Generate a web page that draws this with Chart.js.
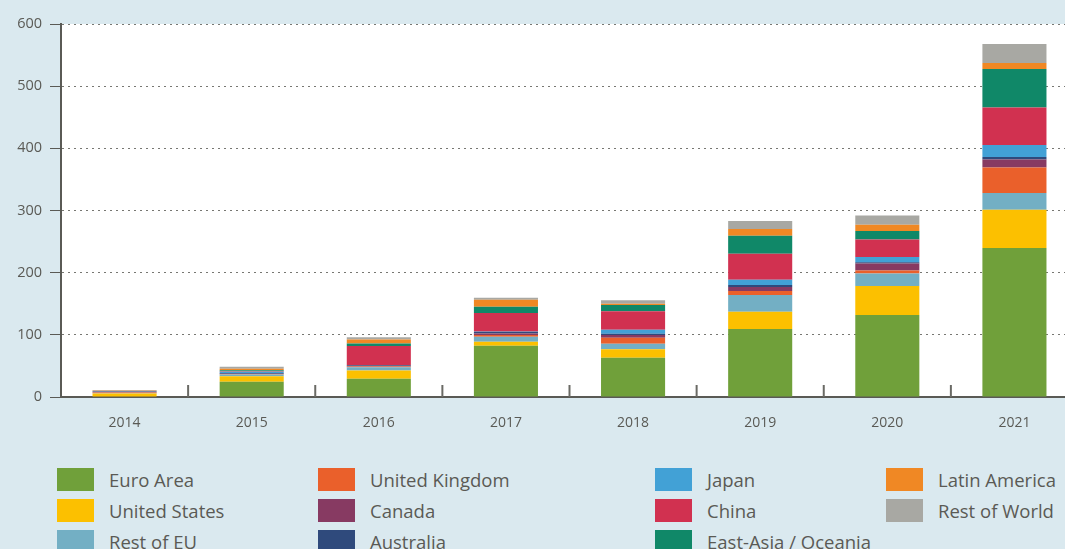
<!DOCTYPE html>
<html>
<head>
<meta charset="utf-8">
<script src="https://cdn.jsdelivr.net/npm/chart.js@4/dist/chart.umd.min.js"></script>
<style>
    html, body { margin: 0; padding: 0; }
    body {
        width: 1065px; height: 549px; overflow: hidden; position: relative;
        background: #dae9ef; font-family: 'Open Sans', sans-serif;
    }
    #chartBox { position: absolute; left: 0; top: 0; width: 1078px; height: 440px; }
    #legend {
        position: absolute; left: 57px; top: 464px;
        display: grid; grid-auto-flow: column;
        grid-template-columns: 261px 337px 231px 200px;
        grid-template-rows: repeat(3, 31px);
    }
    .item { display: flex; align-items: center; font-size: 18.5px; color: #5a5a55; white-space: nowrap; }
    .swatch { width: 37px; height: 23px; margin-right: 15px; flex: none; }
</style>
</head>
<body>
<div id="chartBox"><canvas id="regionChart" width="1078" height="440"></canvas></div>
<div id="legend"></div>
<script>
var years = ['2014', '2015', '2016', '2017', '2018', '2019', '2020', '2021'];
var yTicks = [0, 100, 200, 300, 400, 500, 600];

var regions = ['Euro Area', 'United States', 'Rest of EU', 'United Kingdom', 'Canada', 'Australia',
    'Japan', 'China', 'East-Asia / Oceania', 'Latin America', 'Rest of World'];
var colors = ['#70a03a', '#fcc000', '#73afc4', '#ea602b', '#873a62', '#2f4a7c',
    '#42a1d6', '#d13150', '#108868', '#f08824', '#a8a8a3'];

// values per region, 2014..2021
var euroArea     = [1.0, 24.5, 29.5, 82.5, 63.0, 109.4, 132.0, 239.7];
var unitedStates = [4.5,  9.0, 13.0,  6.4, 14.0,  27.9,  46.7,  61.7];
var restOfEU     = [0.5,  2.5,  5.4,  8.0,  8.6,  26.8,  19.8,  26.8];
var unitedKingdom= [1.2,  1.0,  1.2,  2.7,  9.7,   6.4,   4.8,  40.8];
var canada       = [0.5,  0.5,  0.8,  2.7,  4.3,   6.4,  11.3,  12.9];
var australia    = [1.2,  1.0,  1.0,  2.7,  2.1,   3.2,   2.1,   4.3];
var japan        = [0.3,  2.0,  0.3,  0.5,  6.4,   8.6,   8.6,  19.3];
var china        = [0.3,  1.0, 31.0, 29.5, 30.0,  41.8,  27.9,  60.0];
var eastAsia     = [0.2,  1.5,  3.7, 10.2,  9.7,  29.0,  14.0,  62.2];
var latinAmerica = [0.3,  2.5,  6.4, 11.3,  2.1,  10.7,   9.7,   9.7];
var restOfWorld  = [1.2,  3.0,  3.7,  3.2,  5.9,  12.9,  15.0,  30.6];

var series = [euroArea, unitedStates, restOfEU, unitedKingdom, canada, australia,
    japan, china, eastAsia, latinAmerica, restOfWorld];

var textColor = '#5a5a55';
Chart.defaults.font.family = "'Open Sans', sans-serif";

var plotBackground = {
    id: 'plotBackground',
    beforeDraw: function (chart) {
        var a = chart.chartArea, ctx = chart.ctx;
        ctx.save();
        ctx.fillStyle = '#ffffff';
        ctx.fillRect(a.left, a.top, a.right - a.left, a.bottom - a.top);
        ctx.restore();
    }
};

// short upward ticks between the year columns
var innerTicks = {
    id: 'innerTicks',
    afterDraw: function (chart) {
        var x = chart.scales.x, ctx = chart.ctx, bottom = chart.chartArea.bottom;
        ctx.save();
        ctx.strokeStyle = '#6a6a65';
        ctx.lineWidth = 2;
        for (var i = 0; i < years.length - 1; i++) {
            var px = (x.getPixelForTick(i) + x.getPixelForTick(i + 1)) / 2;
            ctx.beginPath();
            ctx.moveTo(px, bottom - 12);
            ctx.lineTo(px, bottom);
            ctx.stroke();
        }
        ctx.restore();
    }
};

var datasets = regions.map(function (name, i) {
    return {
        label: name,
        data: series[i],
        backgroundColor: colors[i],
        borderWidth: 0,
        barPercentage: 0.504,
        categoryPercentage: 1
    };
});

var chart = new Chart(document.getElementById('regionChart').getContext('2d'), {
    type: 'bar',
    data: { labels: years, datasets: datasets },
    options: {
        responsive: false,
        animation: false,
        layout: { padding: { top: 24, left: 0, right: 0, bottom: 0 } },
        plugins: { legend: { display: false }, tooltip: { enabled: false } },
        scales: {
            x: {
                stacked: true,
                grid: { display: false, drawTicks: false },
                border: { color: textColor, width: 2 },
                ticks: { color: textColor, font: { size: 14 }, padding: 18 },
                afterFit: function (s) { s.height = 43; }
            },
            y: {
                stacked: true,
                min: yTicks[0],
                max: yTicks[yTicks.length - 1],
                afterBuildTicks: function (s) {
                    s.ticks = yTicks.map(function (v) { return { value: v }; });
                },
                grid: { color: '#777772', tickColor: textColor, tickLength: 11, lineWidth: 1 },
                border: { color: textColor, width: 2, dash: [2, 4] },
                ticks: { color: textColor, font: { size: 14.5 }, padding: 8 },
                afterFit: function (s) { s.width = 61; }
            }
        }
    },
    plugins: [plotBackground, innerTicks]
});

function renderLegend() {
    var box = document.getElementById('legend');
    chart.data.datasets.forEach(function (ds) {
        var item = document.createElement('div');
        item.className = 'item';
        item.innerHTML = '<span class="swatch" style="background:' + ds.backgroundColor + '"></span>' + ds.label;
        box.appendChild(item);
    });
}
renderLegend();
</script>
</body>
</html>
